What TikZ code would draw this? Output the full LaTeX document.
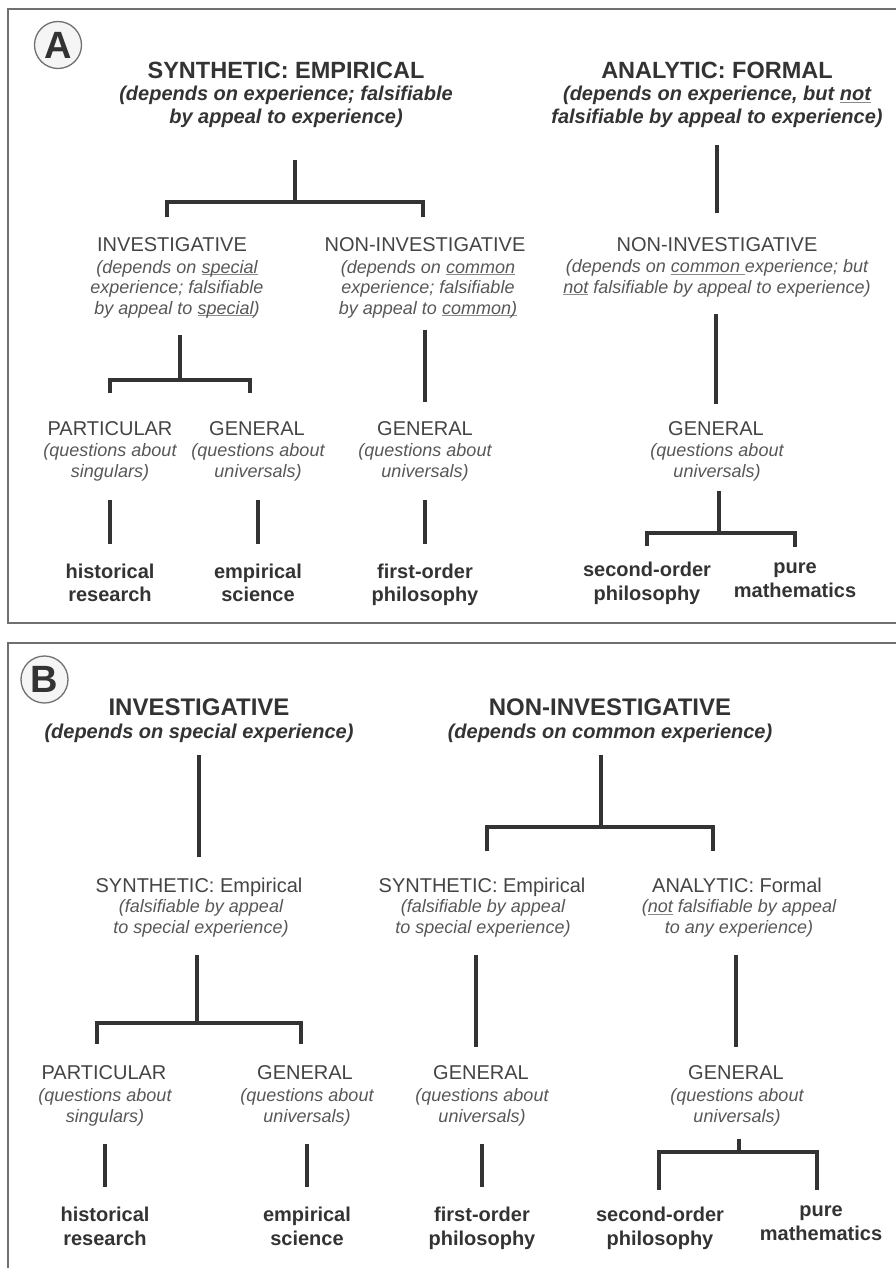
\documentclass[tikz,border=0pt]{standalone}
\usepackage{fontspec}
\setmainfont{Liberation Sans}
\usepackage{tikz}
\definecolor{ink}{HTML}{333333}
\definecolor{catgrey}{HTML}{444444}
\definecolor{notegrey}{HTML}{575757}
\definecolor{framegrey}{HTML}{707070}
\definecolor{ulgrey}{HTML}{8a8a8a}
% thin grey underline close to the baseline
\newcommand\undl[1]{\setbox0\hbox{#1}\rlap{\textcolor{ulgrey}{\rule[-2.2pt]{\wd0}{0.9pt}}}\box0\relax}

\begin{document}
\begin{tikzpicture}[x=1pt, y=-1pt,
  every node/.style={inner sep=0pt, anchor=base},
  badge/.style={circle, draw=framegrey, line width=1.3pt, fill=black!4, minimum size=47pt, anchor=center, text=ink, font=\fontsize{38}{40}\selectfont\bfseries},
  title/.style={text=ink, font=\fontsize{23.5}{27}\selectfont\bfseries},
  titleB/.style={text=ink, font=\fontsize{24}{28}\selectfont\bfseries},
  titlesub/.style={align=center, text=ink, font=\fontsize{20}{23}\selectfont\bfseries\itshape},
  cat/.style={text=catgrey, font=\fontsize{20}{24}\selectfont},
  note/.style={align=center, text=notegrey, font=\fontsize{18}{20.5}\selectfont\itshape},
  leaf/.style={align=center, text=ink, font=\fontsize{20}{23.5}\selectfont\bfseries},
  link/.style={draw=ink, line width=3.2pt},
  frame/.style={draw=framegrey, line width=1.6pt}]

\useasboundingbox (0,0) rectangle (895,1268);

% panel frames
\draw[frame] (905,9) -| (8,623) -- (905,623);
\draw[frame] (905,643) -| (8,1280);

% ---- A ----
\node[badge] (tagA) at (58,45) {A};
\node[title] (synA) at (286,79) {SYNTHETIC: EMPIRICAL};
\node[titlesub] (synAsub) at (286,124) {(depends on experience; falsifiable\\by appeal to experience)};
\node[title] (anaA) at (717,79) {ANALYTIC: FORMAL};
\node[titlesub] (anaAsub) at (717,124) {(depends on experience, but \undl{not}\\falsifiable by appeal to experience)};

\node[cat] (invA) at (172,251) {INVESTIGATIVE};
\node[note] (invAnote) at (177,314) {(depends on \undl{special}\\experience; falsifiable\\by appeal to \undl{special})};
\node[cat] (nivA) at (425,251) {NON-INVESTIGATIVE};
\node[note] (nivAnote) at (428,314) {(depends on \undl{common}\\experience; falsifiable\\by appeal to \undl{common)}};
\node[cat] (ninA) at (717,251) {NON-INVESTIGATIVE};
\node[note] (ninAnote) at (717,293) {(depends on \undl{common }experience; but\\\undl{not} falsifiable by appeal to experience)};

\node[cat] (partA) at (110,435) {PARTICULAR};
\node[note] (partAnote) at (110,477) {(questions about\\singulars)};
\node[cat] (genA) at (257,435) {GENERAL};
\node[note] (genAnote) at (258,477) {(questions about\\universals)};
\node[cat] (genmA) at (425,435) {GENERAL};
\node[note] (genmAnote) at (425,477) {(questions about\\universals)};
\node[cat] (genrA) at (716,435) {GENERAL};
\node[note] (genrAnote) at (717,477) {(questions about\\universals)};

\node[leaf] (histA) at (110,601.5) {historical\\research};
\node[leaf] (empA) at (258,601.5) {empirical\\science};
\node[leaf] (foA) at (425,601.5) {first-order\\philosophy};
\node[leaf] (soA) at (647,600) {second-order\\philosophy};
\node[leaf] (pureA) at (795,597) {pure\\mathematics};

\coordinate (fkSynA) at (295,202);
\coordinate (fkInvA) at (180,380);
\coordinate (fkGenA) at (719,533);

\draw[link] (synAsub.south -| fkSynA) ++(0,32) -- (fkSynA);
\draw[link] ([xshift=-5pt,yshift=20pt]invA.north) |- (fkSynA) -| ([xshift=-2pt,yshift=20pt]nivA.north);
\draw[link] ([yshift=-17pt]anaAsub.south) -- ([yshift=24pt]ninA.north);
\draw[link] (invAnote.south -| fkInvA) ++(0,17) -- (fkInvA);
\draw[link] ([yshift=28pt]partA.north) |- (fkInvA) -| ([xshift=-7pt,yshift=28pt]genA.north);
\draw[link] (nivAnote.south -| genmA.north) ++(0,12) -- ([yshift=19pt]genmA.north);
\draw[link] (ninAnote.south -| genrA.north) ++(0,17) -- ([yshift=17pt]genrA.north);
\draw[link] (partAnote.south) ++(0,19) -- ([yshift=19pt]histA.north);
\draw[link] (genAnote.south) ++(0,19) -- ([yshift=19pt]empA.north);
\draw[link] (genmAnote.south) ++(0,19) -- ([yshift=19pt]foA.north);
\draw[link] (genrAnote.south -| fkGenA) ++(0,10) -- (fkGenA);
\draw[link] ([yshift=16pt]soA.north) |- (fkGenA) -| ([yshift=16pt]pureA.north);

% ---- B ----
\node[badge] (tagB) at (44.5,679.5) {B};
\node[titleB] (invB) at (199,715) {INVESTIGATIVE};
\node[titlesub] (invBsub) at (199,738) {(depends on special experience)};
\node[titleB] (nivB) at (610,715) {NON-INVESTIGATIVE};
\node[titlesub] (nivBsub) at (610,738) {(depends on common experience)};

\node[cat] (synB) at (199,892) {SYNTHETIC: Empirical};
\node[note] (synBnote) at (201,933) {(falsifiable by appeal\\to special experience)};
\node[cat] (synmB) at (482,892) {SYNTHETIC: Empirical};
\node[note] (synmBnote) at (483,933) {(falsifiable by appeal\\to special experience)};
\node[cat] (anaB) at (737,892) {ANALYTIC: Formal};
\node[note] (anaBnote) at (739,933) {(\undl{not} falsifiable by appeal\\to any experience)};

\node[cat] (partB) at (104,1079) {PARTICULAR};
\node[note] (partBnote) at (105,1122) {(questions about\\singulars)};
\node[cat] (genB) at (305,1079) {GENERAL};
\node[note] (genBnote) at (307,1122) {(questions about\\universals)};
\node[cat] (genmB) at (481,1079) {GENERAL};
\node[note] (genmBnote) at (482,1122) {(questions about\\universals)};
\node[cat] (genrB) at (736,1079) {GENERAL};
\node[note] (genrBnote) at (737,1122) {(questions about\\universals)};

\node[leaf] (histB) at (105,1245) {historical\\research};
\node[leaf] (empB) at (307,1245) {empirical\\science};
\node[leaf] (foB) at (482,1245) {first-order\\philosophy};
\node[leaf] (soB) at (660,1245) {second-order\\philosophy};
\node[leaf] (pureB) at (821,1240) {pure\\mathematics};

\coordinate (fkNivB) at (601,827);
\coordinate (fkSynB) at (197,1023);
\coordinate (fkGenB) at (739,1152);

\draw[link] (invBsub.south -| synB.north) ++(0,13) -- ([yshift=20pt]synB.north);
\draw[link] (nivBsub.south -| fkNivB) ++(0,13) -- (fkNivB);
\draw[link] ([xshift=5pt,yshift=26pt]synmB.north) |- (fkNivB) -| ([xshift=-24pt,yshift=26pt]anaB.north);
\draw[link] (synBnote.south -| fkSynB) ++(0,18) -- (fkSynB);
\draw[link] ([xshift=-7pt,yshift=21pt]partB.north) |- (fkSynB) -| ([xshift=-4pt,yshift=21pt]genB.north);
\draw[link] (synmBnote.south) ++(-7,18) -- ++(0,92);
\draw[link] (anaBnote.south -| genrB.north) ++(0,18) -- ([yshift=18pt]genrB.north);
\draw[link] (partBnote.south) ++(0,18) -- ([yshift=20pt]histB.north);
\draw[link] (genBnote.south) ++(0,18) -- ([yshift=20pt]empB.north);
\draw[link] (genmBnote.south -| foB.north) ++(0,18) -- ([yshift=20pt]foB.north);
\draw[link] (genrBnote.south -| fkGenB) ++(0,13) -- (fkGenB);
\draw[link] ([xshift=-1pt,yshift=17pt]soB.north) |- (fkGenB) -| ([xshift=-4pt,yshift=16pt]pureB.north);

\end{tikzpicture}
\end{document}
